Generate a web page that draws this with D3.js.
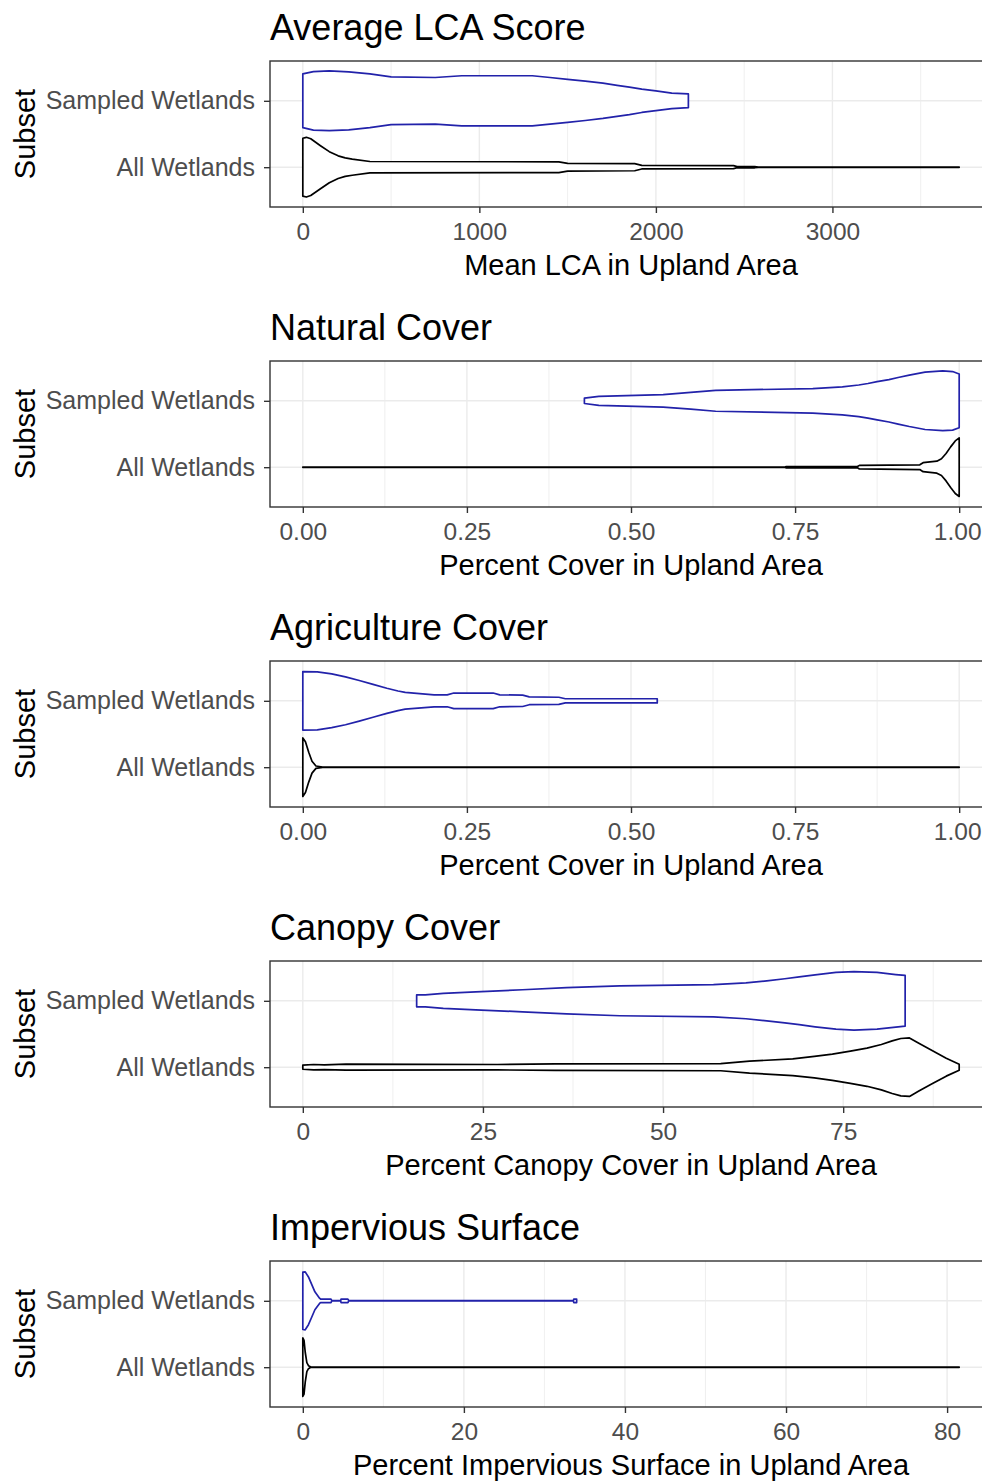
<!DOCTYPE html>
<html>
<head>
<meta charset="utf-8">
<script src="https://cdn.jsdelivr.net/npm/d3@7"></script>
<style>
  body { margin: 0; background: #fff; }
  svg text { font-family: "Liberation Sans", Arial, sans-serif; }
</style>
</head>
<body>
<div class="chart"></div>
<script>
// categories
const subsets = ['Sampled Wetlands', 'All Wetlands'];
const panelTitles = ['Average LCA Score', 'Natural Cover', 'Agriculture Cover', 'Canopy Cover', 'Impervious Surface'];
const axisTitles = ['Mean LCA in Upland Area', 'Percent Cover in Upland Area', 'Percent Cover in Upland Area',
  'Percent Canopy Cover in Upland Area', 'Percent Impervious Surface in Upland Area'];

// tick labels
const ticksLca = [0, 1000, 2000, 3000];
const ticksCover = [0, 0.25, 0.5, 0.75, 1];
const ticksCanopy = [0, 25, 50, 75];
const ticksImperv = [0, 20, 40, 60, 80];
const minorLca = [500, 1500, 2500, 3500];
const minorCover = [0.125, 0.375, 0.625, 0.875];
const minorCanopy = [12.5, 37.5, 62.5, 87.5];
const minorImperv = [10, 30, 50, 70];

// violin outlines: [value, relative half width]
const lcaSampled = [[0,0.9],[60,0.98],[150,1],[260,0.97],[380,0.9],[500,0.8],[750,0.78],[900,0.84],[1300,0.84],[1400,0.78],
  [1500,0.72],[1600,0.66],[1700,0.59],[1780,0.52],[1850,0.46],[1920,0.39],[2000,0.33],[2090,0.26],[2184,0.23]];
const lcaAll = [[0,0.97],[20,1],[45,0.95],[100,0.72],[150,0.52],[200,0.38],[240,0.31],[280,0.27],[380,0.19],[1450,0.18],
  [1500,0.13],[1880,0.12],[1920,0.06],[2440,0.05],[2460,0.02],[2560,0.02],[2580,0.005],[3718,0.004]];
const naturalSampled = [[0.429,0.09],[0.451,0.15],[0.549,0.21],[0.591,0.28],[0.629,0.35],[0.777,0.41],[0.822,0.47],[0.847,0.53],
  [0.861,0.58],[0.875,0.64],[0.893,0.71],[0.907,0.78],[0.924,0.86],[0.948,0.96],[0.975,1],[0.99,0.98],[1,0.9]];
const naturalAll = [[0,0.004],[0.735,0.004],[0.736,0.02],[0.845,0.02],[0.848,0.06],[0.94,0.08],[0.945,0.15],[0.966,0.2],
  [0.973,0.28],[0.98,0.46],[0.987,0.68],[0.994,0.88],[1,0.98]];
const agSampled = [[0,0.98],[0.022,0.97],[0.044,0.9],[0.065,0.8],[0.086,0.68],[0.107,0.55],[0.128,0.42],[0.145,0.33],[0.156,0.28],
  [0.2,0.2],[0.22,0.2],[0.23,0.26],[0.29,0.26],[0.3,0.2],[0.335,0.19],[0.345,0.13],[0.39,0.12],[0.4,0.07],[0.54,0.07]];
const agAll = [[0,0.98],[0.004,0.85],[0.009,0.5],[0.014,0.2],[0.02,0.04],[0.03,0.005],[1,0.004]];
const canopySampled = [[15.8,0.2],[17,0.2],[19.5,0.25],[24,0.3],[30.5,0.37],[36.6,0.44],[44,0.5],[57,0.54],[61.5,0.6],[64.4,0.67],
  [66.9,0.74],[68.9,0.8],[71.1,0.87],[74,0.95],[76.5,0.98],[79.7,0.95],[82.3,0.88],[83.6,0.85]];
const canopyAll = [[0,0.07],[1.5,0.09],[3,0.08],[6,0.1],[27,0.09],[35,0.11],[58,0.12],[62,0.2],[68,0.28],[71,0.36],[73.5,0.44],
  [76,0.54],[78.3,0.64],[80.3,0.76],[81.8,0.88],[83,0.96],[84.2,0.98],[85.5,0.8],[87.4,0.55],[89.3,0.3],[91.1,0.1]];
const impervSampled = [[0,0.96],[0.3,0.97],[0.7,0.8],[1.1,0.55],[1.5,0.3],[2.1,0.08],[2.2,0.06],[3.5,0.06],[3.6,0.004],[4.7,0.004],
  [4.75,0.06],[5.6,0.06],[5.7,0.004],[33.6,0.004],[33.65,0.06],[34,0.06]];
const impervAll = [[0,0.98],[0.15,0.9],[0.3,0.5],[0.5,0.15],[0.7,0.05],[1,0.004],[81.5,0.004]];

const panels = [
  { ticks: ticksLca, minor: minorLca, fmt: d3.format('d'), violins: [lcaSampled, lcaAll] },
  { ticks: ticksCover, minor: minorCover, fmt: d3.format('.2f'), violins: [naturalSampled, naturalAll] },
  { ticks: ticksCover, minor: minorCover, fmt: d3.format('.2f'), violins: [agSampled, agAll] },
  { ticks: ticksCanopy, minor: minorCanopy, fmt: d3.format('d'), violins: [canopySampled, canopyAll] },
  { ticks: ticksImperv, minor: minorImperv, fmt: d3.format('d'), violins: [impervSampled, impervAll] }
];

const colors = ['#2222aa', '#000000'];
const W = 982, H = 1484;
const left = 270, right = 992, panelH = 300;

const svg = d3.select('.chart')
  .append('svg')
  .attr('width', W)
  .attr('height', H);

panels.forEach((p, i) => {
  const off = i * panelH;
  const top = off + 61, bottom = off + 207;
  const g = svg.append('g');

  // x domain from data (starts at 0), ggplot style 5% expansion
  const hi = d3.max(p.violins.flat(), d => d[0]);
  const pad = hi * 0.05;
  const x = d3.scaleLinear().domain([-pad, hi + pad]).range([left, right]);
  const y = d3.scalePoint().domain(subsets).range([top, bottom]).padding(0.6);
  const half = y.step() * 0.45;

  // grid
  g.selectAll('.minor').data(p.minor).enter().append('line')
    .attr('x1', d => x(d)).attr('x2', d => x(d)).attr('y1', top).attr('y2', bottom)
    .attr('stroke', '#ebebeb').attr('stroke-width', 0.8);
  g.selectAll('.major').data(p.ticks).enter().append('line')
    .attr('x1', d => x(d)).attr('x2', d => x(d)).attr('y1', top).attr('y2', bottom)
    .attr('stroke', '#ebebeb').attr('stroke-width', 1.4);
  g.selectAll('.hgrid').data(subsets).enter().append('line')
    .attr('x1', left).attr('x2', right).attr('y1', d => y(d)).attr('y2', d => y(d))
    .attr('stroke', '#ebebeb').attr('stroke-width', 1.4);

  // violins
  p.violins.forEach((v, k) => {
    const cy = y(subsets[k]);
    const area = d3.area()
      .x(d => x(d[0]))
      .y0(d => cy - d[1] * half)
      .y1(d => cy + d[1] * half);
    g.append('path')
      .attr('d', area(v))
      .attr('fill', 'white')
      .attr('stroke', colors[k])
      .attr('stroke-width', 1.7)
      .attr('stroke-linejoin', 'round');
  });

  // panel border
  g.append('rect')
    .attr('x', left).attr('y', top)
    .attr('width', right - left).attr('height', bottom - top)
    .attr('fill', 'none').attr('stroke', '#333').attr('stroke-width', 1.4);

  // x axis
  const xa = g.append('g')
    .attr('transform', `translate(0,${bottom})`)
    .call(d3.axisBottom(x).tickValues(p.ticks).tickFormat(p.fmt).tickSize(6).tickPadding(10));
  xa.select('.domain').remove();
  xa.selectAll('line').attr('stroke', '#333').attr('stroke-width', 1.4);
  xa.selectAll('text').attr('fill', '#4d4d4d').style('font-size', '24.5px').attr('font-family', null);
  // keep the last label inside the window
  xa.selectAll('text').each(function(d) {
    const w = this.getComputedTextLength();
    const over = x(d) + w / 2 - (W - 1);
    if (over > 0) d3.select(this).attr('x', -over);
  });

  // y axis
  const ya = g.append('g')
    .attr('transform', `translate(${left},0)`)
    .call(d3.axisLeft(y).tickSize(6).tickPadding(9));
  ya.select('.domain').remove();
  ya.selectAll('line').attr('stroke', '#333').attr('stroke-width', 1.4);
  ya.selectAll('text').attr('fill', '#4d4d4d').style('font-size', '25px').attr('font-family', null);

  // titles
  g.append('text')
    .attr('x', left).attr('y', off + 40)
    .style('font-size', '36px').attr('fill', '#000')
    .text(panelTitles[i]);
  g.append('text')
    .attr('x', (left + right) / 2).attr('y', off + 275)
    .attr('text-anchor', 'middle')
    .style('font-size', '29px').attr('fill', '#000')
    .text(axisTitles[i]);
  g.append('text')
    .attr('transform', `translate(35,${(top + bottom) / 2}) rotate(-90)`)
    .attr('text-anchor', 'middle')
    .style('font-size', '29px').attr('fill', '#000')
    .text('Subset');
});
</script>
</body>
</html>
